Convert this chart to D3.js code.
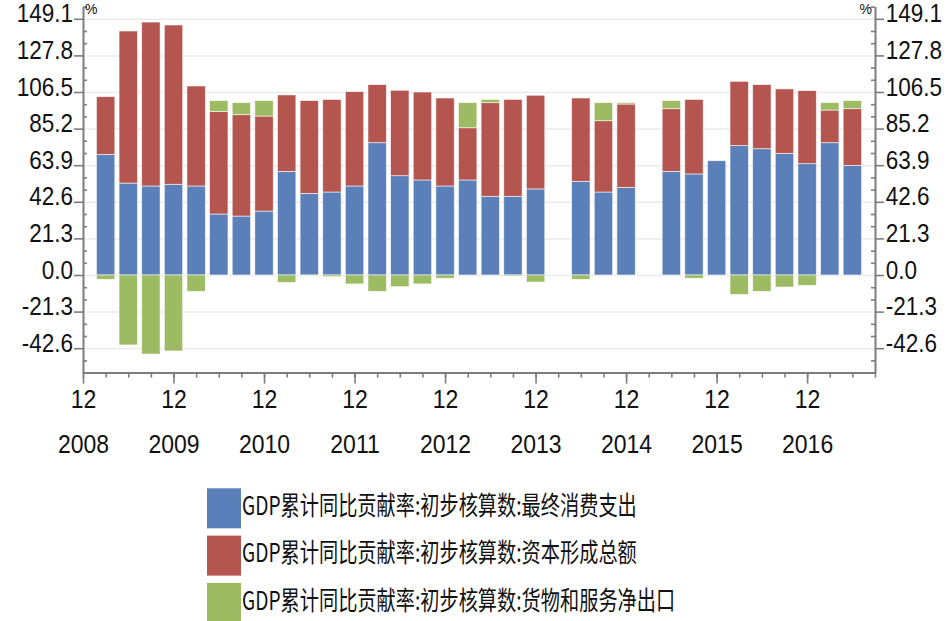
<!DOCTYPE html>
<html>
<head>
<meta charset="utf-8">
<script src="https://cdn.jsdelivr.net/npm/d3@7"></script>
<style>
  body { margin: 0; background: #fff; }
  svg text { font-family: "Liberation Sans", Arial, sans-serif; fill: #111; }
</style>
</head>
<body>
<svg></svg>
<script>
// quarterly cumulative data, 2009-03 .. 2017-06 (null = not published)
const quarters = ["2009-03","2009-06","2009-09","2009-12","2010-03","2010-06","2010-09","2010-12",
  "2011-03","2011-06","2011-09","2011-12","2012-03","2012-06","2012-09","2012-12",
  "2013-03","2013-06","2013-09","2013-12","2014-03","2014-06","2014-09","2014-12",
  "2015-03","2015-06","2015-09","2015-12","2016-03","2016-06","2016-09","2016-12",
  "2017-03","2017-06"];
const consumption = [70.2,53.5,51.8,52.8, 51.8,35.5,34.3,37.2, 60.3,47.5,48.3,51.8,
  77.0,57.8,55.3,51.8, 55.3,45.8,45.8,50.1, null,54.5,48.3,51.0,
  null,60.3,58.8,66.5, 75.3,73.5,70.8,64.8, 77.0,63.8];
const capital = [33.6,88.5,95.4,92.7, 58.2,59.6,59.0,55.3, 44.5,54.0,53.9,54.9,
  33.8,49.7,51.2,51.2, 30.4,54.5,56.4,54.5, null,48.5,41.5,48.5,
  null,36.5,43.4,null, 37.4,37.3,37.5,42.5, 19.0,33.0];
const netExports = [-2.5,-40.7,-46.0,-44.2, -9.5,6.4,7.0,9.0, -4.3,-0.3,-1.0,-5.2,
  -9.5,-6.8,-5.2,-1.9, 14.6,1.9,-0.6,-4.1, null,-2.5,10.5,0.8,
  null,4.7,-1.9,null, -11.3,-9.5,-7.0,-6.0, 4.3,4.7];

const seriesNames = ["GDP累计同比贡献率:初步核算数:最终消费支出",
  "GDP累计同比贡献率:初步核算数:资本形成总额",
  "GDP累计同比贡献率:初步核算数:货物和服务净出口"];
const colors = ["#5b80b9", "#b45550", "#9dbb62"];
const yTicks = [-42.6, -21.3, 0, 21.3, 42.6, 63.9, 85.2, 106.5, 127.8, 149.1];
const yearLabels = ["2008","2009","2010","2011","2012","2013","2014","2015","2016"];

const size = {w: 948, h: 621};
const plot = {l: 83, r: 875, t: 6.6, b: 372.6};

const svg = d3.select('svg')
  .attr('width', size.w)
  .attr('height', size.h);

// months since 2008-12
const monthIdx = q => (+q.slice(0, 4) - 2008) * 12 + (+q.slice(5)) - 12;

const x = d3.scaleLinear().domain([0, 105]).range([plot.l, plot.r]);
const y = d3.scaleLinear().domain([-56.8, 156.2]).range([plot.b, plot.t]);
const barW = 18.4;

// table for the stack
const keys = ["cons", "cap", "net"];
const rows = quarters.map((q, i) => ({
  q: q, cons: consumption[i] || 0, cap: capital[i] || 0, net: netExports[i] || 0
}));
const stacked = d3.stack().keys(keys).offset(d3.stackOffsetDiverging)(rows);

// gridlines
svg.append('g')
  .attr('transform', 'translate(' + plot.l + ',0)')
  .call(d3.axisLeft(y).tickValues(yTicks).tickSize(-(plot.r - plot.l)).tickFormat(''))
  .call(g => g.select('.domain').remove())
  .selectAll('line').attr('stroke', '#ebebeb').attr('stroke-width', 1.5);

// bars
svg.append('g').selectAll('g')
  .data(stacked)
  .enter().append('g')
  .attr('fill', (d, i) => colors[i])
  .selectAll('rect')
  .data(d => d.filter(s => s[1] - s[0] !== 0))
  .enter().append('rect')
  .attr('x', d => x(monthIdx(d.data.q)) - barW / 2)
  .attr('width', barW)
  .attr('y', d => y(d[1]))
  .attr('height', d => y(d[0]) - y(d[1]))
  .attr('stroke', '#fff')
  .attr('stroke-opacity', 0.7)
  .attr('stroke-width', 0.8);

const axisColor = '#7d7d7d';
function styleAxis(g) {
  g.select('.domain').attr('stroke', axisColor).attr('stroke-width', 2);
  g.selectAll('.tick line').attr('stroke', axisColor).attr('stroke-width', 1.6);
}

// minor y ticks every 7.1
const minorY = d3.range(-8, 23).filter(i => i % 3 !== 0).map(i => +(i * 7.1).toFixed(1));

// left axis
const left = svg.append('g').attr('transform', 'translate(' + plot.l + ',0)');
left.call(d3.axisLeft(y).tickValues(minorY).tickSize(-4).tickSizeOuter(0).tickFormat(''))
  .call(styleAxis);
left.append('g')
  .call(d3.axisLeft(y).tickValues(yTicks).tickSize(9).tickPadding(2).tickSizeOuter(0)
    .tickFormat(d => d.toFixed(1)))
  .call(styleAxis)
  .call(g => g.select('.domain').remove())
  .selectAll('text')
  .attr('dy', '0.12em')
  .style('font-size', '25px')
  .attr('transform', 'scale(0.9,1)');

// right axis
const right = svg.append('g').attr('transform', 'translate(' + plot.r + ',0)');
right.call(d3.axisRight(y).tickValues(minorY).tickSize(-4).tickSizeOuter(0).tickFormat(''))
  .call(styleAxis);
right.append('g')
  .call(d3.axisRight(y).tickValues(yTicks).tickSize(9).tickPadding(3).tickSizeOuter(0)
    .tickFormat(d => d.toFixed(1)))
  .call(styleAxis)
  .call(g => g.select('.domain').remove())
  .selectAll('text')
  .attr('dy', '0.12em')
  .style('font-size', '25px')
  .attr('transform', 'scale(0.9,1)');

// x axis: quarterly minor ticks, december major ticks
const bottom = svg.append('g').attr('transform', 'translate(0,' + plot.b + ')');
bottom.call(d3.axisBottom(x).tickValues(d3.range(0, 106, 3)).tickSize(5).tickSizeOuter(0).tickFormat(''))
  .call(styleAxis);
const major = bottom.append('g')
  .call(d3.axisBottom(x).tickValues(yearLabels.map((d, i) => i * 12)).tickSize(11).tickSizeOuter(0)
    .tickFormat(() => '12'))
  .call(styleAxis)
  .call(g => g.select('.domain').remove());
major.selectAll('text')
  .attr('y', 35).attr('dy', 0)
  .style('font-size', '25px')
  .attr('transform', 'scale(0.92,1)');
major.selectAll('.tick')
  .append('text')
  .attr('y', 80)
  .attr('text-anchor', 'middle')
  .attr('fill', '#111')
  .style('font-size', '25px')
  .attr('transform', 'scale(0.92,1)')
  .text((d, i) => yearLabels[i]);

// unit labels
svg.append('text').attr('x', plot.l + 2).attr('y', 14)
  .style('font-size', '14px').text('%');
svg.append('text').attr('x', plot.r - 3).attr('y', 14).attr('text-anchor', 'end')
  .style('font-size', '14px').text('%');

// legend
const legend = svg.append('g').attr('transform', 'translate(207,488.3)');
const item = legend.selectAll('g')
  .data(seriesNames)
  .enter().append('g')
  .attr('transform', (d, i) => 'translate(0,' + (i * 47.3) + ')');
item.append('rect')
  .attr('width', 34).attr('height', 40)
  .attr('fill', (d, i) => colors[i]);
const labels = item.append('text')
  .attr('x', 35).attr('y', 26.7)
  .style('font-family', '"Noto Sans CJK SC", sans-serif')
  .style('font-size', '26px')
  .text(d => d);
// squeeze horizontally like the original
const natural = labels.node().getComputedTextLength();
const sx = 395 / natural;
labels.attr('transform', 'translate(35,0) scale(' + sx + ',1) translate(-35,0)');
</script>
</body>
</html>
